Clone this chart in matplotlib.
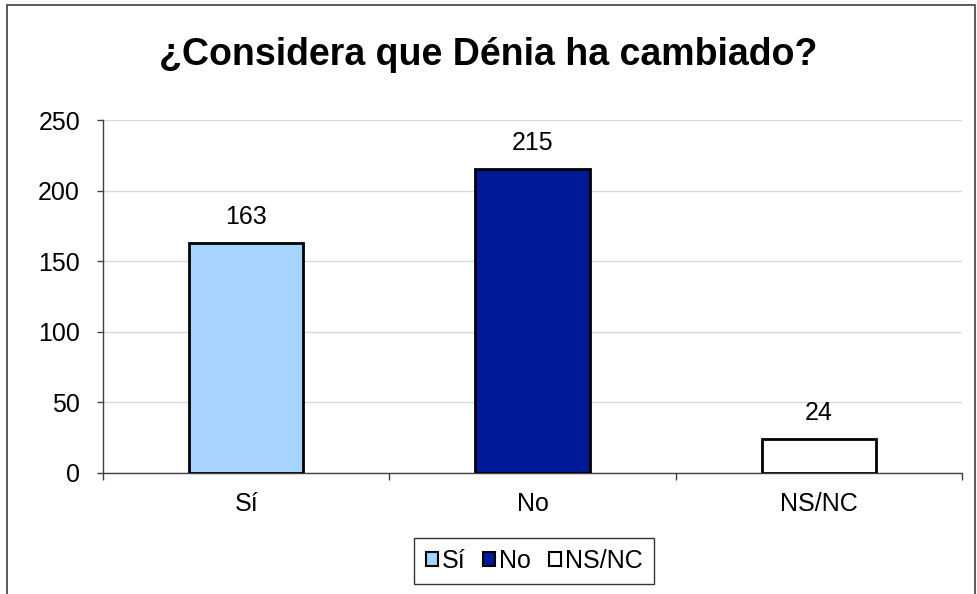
import matplotlib
matplotlib.use('Agg')
import matplotlib.pyplot as plt
from matplotlib.patches import Rectangle

plt.rcParams['font.family'] = ['Liberation Sans', 'DejaVu Sans']

categories = ['Sí', 'No', 'NS/NC']
values = [163, 215, 24]
colors = ['#A6D3FF', '#00189A', '#FFFFFF']
title = '¿Considera que Dénia ha cambiado?'

fig = plt.figure(figsize=(9.77, 5.94), dpi=100)
ax = fig.add_axes([103 / 977, 1 - 473 / 594, (962 - 103) / 977, (473 - 120) / 594])

# frame round the whole chart
fig.patches.append(Rectangle((7 / 977, -0.01), (975 - 7) / 977, 1 - 5 / 594 + 0.01,
                             transform=fig.transFigure, fill=False,
                             edgecolor='#404040', linewidth=1.2))

x = list(range(len(categories)))
ax.bar(x, values, width=0.40, color=colors, edgecolor='black',
       linewidth=2, zorder=3)

for xi, v in zip(x, values):
    ax.text(xi, v + 10, str(v), ha='center', va='bottom', fontsize=18)

ax.set_xlim(-0.5, len(categories) - 0.5)
ax.set_ylim(0, 250)
ax.set_yticks(range(0, 251, 50))
ax.tick_params(axis='y', labelsize=18, length=4.5, width=1, color='#404040', pad=12)
ax.set_xticks(x)
ax.set_xticklabels(categories, fontsize=18)
ax.tick_params(axis='x', length=0, pad=14)
ax.set_xticks([-0.5, 0.5, 1.5, 2.5], minor=True)
ax.tick_params(axis='x', which='minor', length=5, width=1, color='#404040')

ax.yaxis.grid(True, color='#D9D9D9', linewidth=1, zorder=0)
ax.set_axisbelow(True)
for s in ['top', 'right']:
    ax.spines[s].set_visible(False)
for s in ['left', 'bottom']:
    ax.spines[s].set_color('#404040')
    ax.spines[s].set_linewidth(1)

fig.text(0.5, 1 - 55 / 594, title, ha='center', va='center',
         fontsize=27, fontweight='bold')

handles = [Rectangle((0, 0), 1, 1, facecolor=c, edgecolor='black', linewidth=1.5)
           for c in colors]
leg = fig.legend(handles, categories, loc='center', bbox_to_anchor=(534 / 977, 1 - 561 / 594),
                 ncol=3, fontsize=18, frameon=True, fancybox=False, handlelength=0.5,
                 handleheight=0.5, handletextpad=0.15, columnspacing=0.7,
                 borderpad=0.45)
leg.get_frame().set_edgecolor('black')
leg.get_frame().set_linewidth(1)

fig.savefig('out.png', dpi=100)
